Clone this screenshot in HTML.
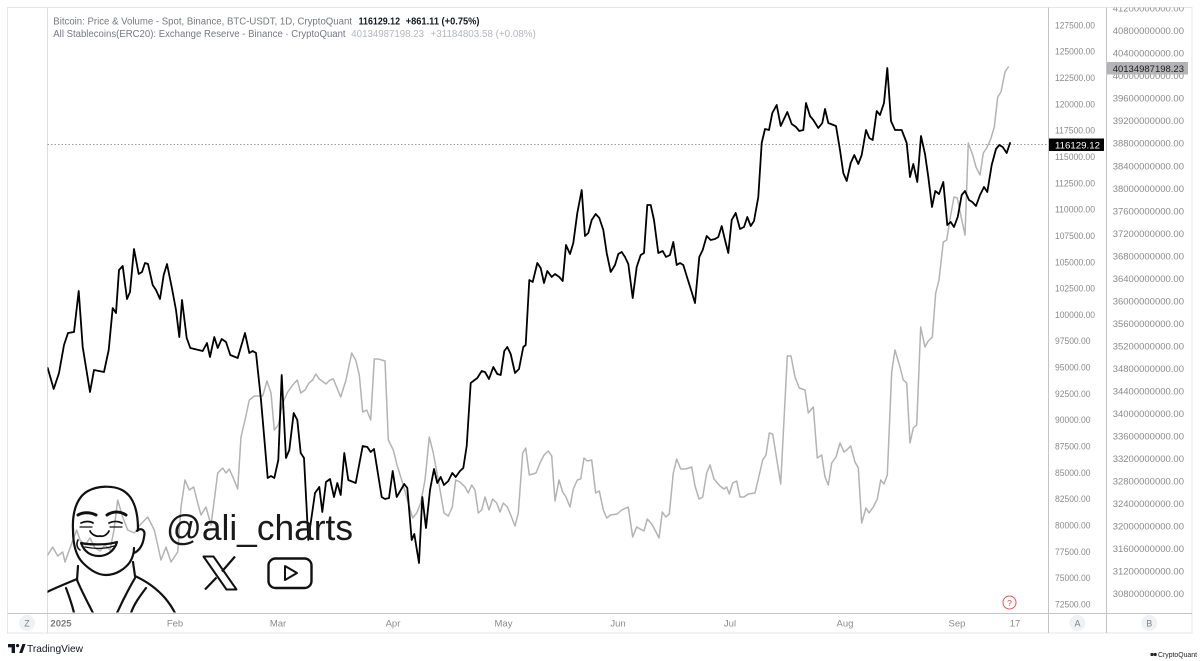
<!DOCTYPE html>
<html>
<head>
<meta charset="utf-8">
<style>
  html,body{margin:0;padding:0;background:#fff;}
  svg{display:block;}
  text{font-family:"Liberation Sans",Arial,sans-serif;}
</style>
</head>
<body>
<svg width="1200" height="661" viewBox="0 0 1200 661" xmlns="http://www.w3.org/2000/svg">
  <defs>
    <clipPath id="plot"><rect x="47.5" y="7.5" width="1000.5" height="605"/></clipPath>
    <clipPath id="axes"><rect x="1048" y="7.5" width="144" height="605"/></clipPath>
  </defs>
  <rect x="0" y="0" width="1200" height="661" fill="#fff"/>

  <!-- frame -->
  <rect x="7.5" y="7.5" width="1184.5" height="625.5" fill="none" stroke="#e6e6e6" stroke-width="1"/>
  <line x1="47.5" y1="7.5" x2="47.5" y2="633" stroke="#dcdcdc" stroke-width="1"/>
  <line x1="1048.5" y1="7.5" x2="1048.5" y2="633" stroke="#c4c4c4" stroke-width="1"/>
  <line x1="1106.5" y1="7.5" x2="1106.5" y2="633" stroke="#c4c4c4" stroke-width="1"/>
  <line x1="7.5" y1="613.5" x2="1192" y2="613.5" stroke="#c4c4c4" stroke-width="1"/>

  <!-- legend -->
  <text x="53.3" y="24.3" font-size="10" fill="#76787f" textLength="298.7" lengthAdjust="spacingAndGlyphs">Bitcoin: Price &amp; Volume - Spot, Binance, BTC-USDT, 1D, CryptoQuant</text>
  <text x="358.6" y="24.3" font-size="10" font-weight="bold" fill="#131722" textLength="41.4" lengthAdjust="spacingAndGlyphs">116129.12</text>
  <text x="405.7" y="24.3" font-size="10" font-weight="bold" fill="#131722" textLength="73.8" lengthAdjust="spacingAndGlyphs">+861.11 (+0.75%)</text>
  <text x="53.3" y="37" font-size="10" fill="#76787f" textLength="292.3" lengthAdjust="spacingAndGlyphs">All Stablecoins(ERC20): Exchange Reserve - Binance · CryptoQuant</text>
  <text x="351.3" y="37" font-size="10" fill="#b4b6bc" textLength="72.7" lengthAdjust="spacingAndGlyphs">40134987198.23</text>
  <text x="430.5" y="37" font-size="10" fill="#b4b6bc" textLength="105.3" lengthAdjust="spacingAndGlyphs">+31184803.58 (+0.08%)</text>

  <!-- dotted price line -->
  <line x1="47.5" y1="144.5" x2="1048" y2="144.5" stroke="#9a9ca3" stroke-width="1" stroke-dasharray="1.5,2"/>

  <!-- series -->
  <g clip-path="url(#plot)" fill="none" stroke-linejoin="round" stroke-linecap="round">
    <polyline stroke="#b3b3b3" stroke-width="1.5" points="47.7,555 52.7,547 57.7,556 62.7,552 65,562 69.3,550 76.7,530 80,540 85,545 90,538 95,548 100,551 105,545 110,550 114,530 117.7,500 122.7,517 127.7,530 134.3,533 140,525 147.7,517 154.3,530 161,560 166,547 171,562 177.7,552 181,507 185,480 189.3,490 193.7,487 197.7,503 201,515 206,507 211,525 214.3,500 217.7,473 222.7,468 226,473 229.3,469 233.7,479 237.7,489 241,437 245,420 249.3,400 254.3,396 262.7,396 267,381 271,393 274.3,430 278.3,425 282.7,403 287.7,392 292.7,385 297.3,380 300.7,393 305,390 309,383 312.7,380 315.7,374 319.3,379 326,384 330,380 333.3,379 340.7,397 346,380 351.7,353 355.7,360 359.3,375 362.7,412 366.7,410 370.7,420 374.3,359 378.3,359 385,361 388.3,440 393.3,450 397,465 401.7,480 408.3,503 412.7,518 416.7,513 420.7,503 425,480 429.3,437 433.3,453 438.3,480 444,513 448.3,516 452.3,507 455.7,480 460,482 465,487 468.3,493 471.7,485 475,490 478.3,513 481.7,510 485,497 489,510 492.7,499 496.7,503 500,512 503.3,503 507.3,507 510.7,515 515,526 518.3,513 522.7,453 525.7,448 529.3,475 536,473 540,463 544,455 548.3,451 551.7,456 555,501 559,480 562.7,492 566,497 570,507 573.3,489 577.3,480 580.7,479 584,458 587.3,461 591.7,460 595.7,493 599.3,491 603.3,510 606.7,518 610.7,515 617.3,514 621.7,510 628.3,507 632.7,537 636.7,527 644,531 647.3,519 651.7,524 655,530 659,538 662.3,512 665.7,517 669.3,514 673.3,473 676.7,459 680.7,469 685.7,469 691.7,467 695,486 699,499 702.7,497 706.7,473 710,465 714,479 720,486 724,489 726.7,487 729.3,494 732.7,483 736.7,481 740,497 744,497 748.3,494 755,493 762.7,460 766,455 769.3,433 772.7,434 780.7,484 787.3,356 791,356 795,377 799.3,388 805,390 808.3,413 813.3,407 817.3,458 821.7,455 825,477 828.3,485 831.7,463 836,457 840,443 844,452 846.7,450 850.7,446 855,462 858.3,468 861.7,523 866,508 869,513 873.3,507 877.3,499 880.7,480 884,484 887.3,475 891.7,372 895,350 900,367 903.3,380 906.7,383 910,443 913.3,428 916.7,425 920.7,327 925,347 928.3,341 932.3,337 935.7,293 939,280 943.3,242 946.7,240 950,219 954,197 957.3,198 960.7,215 965,235 968.3,143 972.7,155 976,167 980,175 983.3,153 986.7,148 990.7,139 994.3,127 997.7,97 1001,92 1005,72 1008.3,67"/>
    <polyline stroke="#000" stroke-width="1.8" points="47.7,368 53.7,389 59,373 64,345 68,333 74,332 78.7,291 82.7,347 90,392 94,370 104,372 108.7,350 112.7,308 116,313 119,270 122.7,266 127,299 130,292 134,249 138.7,274 142,272 145,263 148,264 152.7,285 156,290 160,299 163.7,275 167,264 171.7,287 176,310 179.3,337 182,300 186.7,338 190.3,348 202.7,351 207,343 210,357 214.3,337 217.7,348 221.7,339 226,342 230.3,355 237.7,358 245,333 249.3,353 252.7,351 256,353 261,400 267.7,478 271,476 274.3,478 278.3,460 281.7,375 286,458 289.3,450 293.7,413 297.3,420 300.7,453 304,458 308.3,540 315,493 319.3,487 322.3,512 326,482 330,479 334,497 337.3,483 340.7,495 344.3,453 348.3,480 355.7,483 362.7,446 367.3,447 370.7,452 374,449 381.7,497 385,499 389,498 392.7,471 396.7,497 404.3,484 407.3,488 411.7,540 414.3,534 419,563 422.3,497 426,528 430,490 434,469 437.3,483 440.7,477 444,485 448.3,481 452.3,473 455.7,477 460,471 463.3,468 466.7,446 470.7,383 477.3,378 481.7,371 485,372 489,379 493.3,367 497.3,374 500.7,375 504.3,351 507.3,347 510.7,354 515,373 519,369 523.3,347 525.7,345 529.3,280 532.7,282 537.3,263 540.7,268 544,283 547.3,271 551.7,277 555,274 559.3,277 562.7,281 566,245 570,254 573.3,243 577.3,213 581.7,190 585,236 588.3,233 591.7,220 595.7,214 599.3,218 603.3,230 606.7,253 610.7,272 615,265 618.3,254 621.7,252 625,257 628.3,264 632.7,298 636.7,267 640.7,255 644,253 647.3,205 650.7,205 654,220 658.3,253 662.7,251 666,257 670,255 673.3,242 676.7,265 680,263 683.3,265 687.3,278 691.7,292 695,303 699.3,257 702.7,250 706.7,236 710.7,240 715,239 718.3,237 721.7,226 725,240 728.3,253 731.7,220 735.7,213 740,229 744,227 747.3,217 750.7,226 754,221 758.3,197 761.7,143 765,129 769,130 772.3,113 776.7,105 780.7,126 787.3,112 791.7,124 796,127 799.3,131 803.3,130 806,103 810,116 813.3,120 818.3,128 822.3,123 825,109 828.3,123 836,126 840,150 843.3,173 846.7,181 850.7,163 854.3,155 858.3,164 861.7,155 866,130 869.3,138 872.7,140 876.7,111 880,115 884,103 887.3,68 891,121 895,130 901.7,130 906.7,143 910,177 913.3,164 917.3,182 921,136 925,154 928.3,177 932,207 935.3,191 939,194 943.3,182 947.3,225 950.7,222 954,227 957.7,217 961.7,195 965,191 969,200 972.3,202 976,206 980,195 984,187 987.3,192 991.7,165 996,149 999.3,145 1002.7,147 1006.7,153 1010,143"/>
  </g>

  <!-- watermark: face -->
  <g clip-path="url(#plot)" fill="none" stroke="#111" stroke-width="2.2" stroke-linecap="round" stroke-linejoin="round">
    <path d="M73,530 C72,512 77,497 88,491 C97,486 112,485 122,490 C132,495 138,508 138,529"/>
    <path d="M137,531 C141,527 146,530 144,537 C143,545 139,551 134,553"/>
    <path d="M73,530 C73,545 76,556 83,563 C90,570 98,575 106,575 C116,575 125,569 130,562 C133,557 134,553 134,548"/>
    <path d="M78,515 C83,512 90,512 96,515" stroke-width="3"/>
    <path d="M107,515 C113,511 120,511 126,515" stroke-width="3"/>
    <path d="M81,523 C85,521 90,521 93,523" stroke-width="1.8"/>
    <path d="M109,523 C113,521 118,521 122,523" stroke-width="1.8"/>
    <path d="M80,527 L92,527 M110,527 L122,527" stroke-width="1.2"/>
    <path d="M90,531 C92,535 97,537 100,536 C103,537 107,535 109,531" stroke-width="1.8"/>
    <path d="M81,543 C90,545 108,545 117,542 C114,552 106,556 99,556 C90,556 84,551 81,543 Z"/>
    <path d="M85,547 C95,549 105,549 114,546" stroke-width="1.4"/>
    <path d="M78,540 C76,544 77,548 80,550" stroke-width="1.6"/>
    <path d="M78,566 L77,580 M133,562 L135,576"/>
    <path d="M77,579 C65,584 55,588 47,592"/>
    <path d="M77,580 C82,592 88,603 93,613"/>
    <path d="M66,588 C69,596 72,604 74,613"/>
    <path d="M135,576 C148,582 158,590 165,598 C170,604 173,609 175,613"/>
    <path d="M135,578 C128,590 122,602 117,613"/>
    <path d="M146,588 C140,596 134,604 131,613"/>
  </g>
  <text x="166" y="540" font-size="36" fill="#1a1a1a" textLength="187" lengthAdjust="spacingAndGlyphs">@ali_charts</text>
  <!-- X icon -->
  <g fill="none" stroke="#111" stroke-width="2" stroke-linejoin="round">
    <path d="M203.5,556.5 L213.5,556.5 L236.5,589.5 L226.5,589.5 Z"/>
    <path d="M235,556.5 L222,571.5 M216.5,577.5 L205,589.5" stroke-width="2.2"/>
  </g>
  <!-- YouTube icon -->
  <rect x="268.5" y="558.5" width="43" height="29.5" rx="7" fill="none" stroke="#111" stroke-width="2.4"/>
  <path d="M285,566 L297,573 L285,580 Z" fill="none" stroke="#111" stroke-width="2" stroke-linejoin="round"/>

  <!-- red ? -->
  <circle cx="1009.5" cy="602.5" r="6.5" fill="#fff" stroke="#e05a5a" stroke-width="1"/>
  <text x="1009.5" y="605.8" font-size="8.5" fill="#d84848" text-anchor="middle">?</text>

  <!-- axis A labels -->
  <g font-size="9.5" fill="#8a8a8a" clip-path="url(#axes)">
    <text x="1055" y="28.4" textLength="40" lengthAdjust="spacingAndGlyphs">127500.00</text>
    <text x="1055" y="54.7" textLength="40" lengthAdjust="spacingAndGlyphs">125000.00</text>
    <text x="1055" y="81.0" textLength="40" lengthAdjust="spacingAndGlyphs">122500.00</text>
    <text x="1055" y="107.4" textLength="40" lengthAdjust="spacingAndGlyphs">120000.00</text>
    <text x="1055" y="133.7" textLength="40" lengthAdjust="spacingAndGlyphs">117500.00</text>
    <text x="1055" y="160.0" textLength="40" lengthAdjust="spacingAndGlyphs">115000.00</text>
    <text x="1055" y="186.3" textLength="40" lengthAdjust="spacingAndGlyphs">112500.00</text>
    <text x="1055" y="212.6" textLength="40" lengthAdjust="spacingAndGlyphs">110000.00</text>
    <text x="1055" y="239.0" textLength="40" lengthAdjust="spacingAndGlyphs">107500.00</text>
    <text x="1055" y="265.3" textLength="40" lengthAdjust="spacingAndGlyphs">105000.00</text>
    <text x="1055" y="291.6" textLength="40" lengthAdjust="spacingAndGlyphs">102500.00</text>
    <text x="1055" y="317.9" textLength="40" lengthAdjust="spacingAndGlyphs">100000.00</text>
    <text x="1055" y="344.2" textLength="35.5" lengthAdjust="spacingAndGlyphs">97500.00</text>
    <text x="1055" y="370.6" textLength="35.5" lengthAdjust="spacingAndGlyphs">95000.00</text>
    <text x="1055" y="396.9" textLength="35.5" lengthAdjust="spacingAndGlyphs">92500.00</text>
    <text x="1055" y="423.2" textLength="35.5" lengthAdjust="spacingAndGlyphs">90000.00</text>
    <text x="1055" y="449.5" textLength="35.5" lengthAdjust="spacingAndGlyphs">87500.00</text>
    <text x="1055" y="475.8" textLength="35.5" lengthAdjust="spacingAndGlyphs">85000.00</text>
    <text x="1055" y="502.2" textLength="35.5" lengthAdjust="spacingAndGlyphs">82500.00</text>
    <text x="1055" y="528.5" textLength="35.5" lengthAdjust="spacingAndGlyphs">80000.00</text>
    <text x="1055" y="554.8" textLength="35.5" lengthAdjust="spacingAndGlyphs">77500.00</text>
    <text x="1055" y="581.1" textLength="35.5" lengthAdjust="spacingAndGlyphs">75000.00</text>
    <text x="1055" y="607.4" textLength="35.5" lengthAdjust="spacingAndGlyphs">72500.00</text>
  </g>

  <!-- axis B labels -->
  <g font-size="9.5" fill="#8a8a8a" clip-path="url(#axes)">
    <text x="1112.7" y="11.6" textLength="71.3" lengthAdjust="spacingAndGlyphs">41200000000.00</text>
    <text x="1112.7" y="34.1" textLength="71.3" lengthAdjust="spacingAndGlyphs">40800000000.00</text>
    <text x="1112.7" y="56.6" textLength="71.3" lengthAdjust="spacingAndGlyphs">40400000000.00</text>
    <text x="1112.7" y="79.2" textLength="71.3" lengthAdjust="spacingAndGlyphs">40000000000.00</text>
    <text x="1112.7" y="101.7" textLength="71.3" lengthAdjust="spacingAndGlyphs">39600000000.00</text>
    <text x="1112.7" y="124.2" textLength="71.3" lengthAdjust="spacingAndGlyphs">39200000000.00</text>
    <text x="1112.7" y="146.7" textLength="71.3" lengthAdjust="spacingAndGlyphs">38800000000.00</text>
    <text x="1112.7" y="169.3" textLength="71.3" lengthAdjust="spacingAndGlyphs">38400000000.00</text>
    <text x="1112.7" y="191.8" textLength="71.3" lengthAdjust="spacingAndGlyphs">38000000000.00</text>
    <text x="1112.7" y="214.3" textLength="71.3" lengthAdjust="spacingAndGlyphs">37600000000.00</text>
    <text x="1112.7" y="236.8" textLength="71.3" lengthAdjust="spacingAndGlyphs">37200000000.00</text>
    <text x="1112.7" y="259.3" textLength="71.3" lengthAdjust="spacingAndGlyphs">36800000000.00</text>
    <text x="1112.7" y="281.9" textLength="71.3" lengthAdjust="spacingAndGlyphs">36400000000.00</text>
    <text x="1112.7" y="304.4" textLength="71.3" lengthAdjust="spacingAndGlyphs">36000000000.00</text>
    <text x="1112.7" y="326.9" textLength="71.3" lengthAdjust="spacingAndGlyphs">35600000000.00</text>
    <text x="1112.7" y="349.4" textLength="71.3" lengthAdjust="spacingAndGlyphs">35200000000.00</text>
    <text x="1112.7" y="372.0" textLength="71.3" lengthAdjust="spacingAndGlyphs">34800000000.00</text>
    <text x="1112.7" y="394.5" textLength="71.3" lengthAdjust="spacingAndGlyphs">34400000000.00</text>
    <text x="1112.7" y="417.0" textLength="71.3" lengthAdjust="spacingAndGlyphs">34000000000.00</text>
    <text x="1112.7" y="439.5" textLength="71.3" lengthAdjust="spacingAndGlyphs">33600000000.00</text>
    <text x="1112.7" y="462.1" textLength="71.3" lengthAdjust="spacingAndGlyphs">33200000000.00</text>
    <text x="1112.7" y="484.6" textLength="71.3" lengthAdjust="spacingAndGlyphs">32800000000.00</text>
    <text x="1112.7" y="507.1" textLength="71.3" lengthAdjust="spacingAndGlyphs">32400000000.00</text>
    <text x="1112.7" y="529.6" textLength="71.3" lengthAdjust="spacingAndGlyphs">32000000000.00</text>
    <text x="1112.7" y="552.1" textLength="71.3" lengthAdjust="spacingAndGlyphs">31600000000.00</text>
    <text x="1112.7" y="574.7" textLength="71.3" lengthAdjust="spacingAndGlyphs">31200000000.00</text>
    <text x="1112.7" y="597.2" textLength="71.3" lengthAdjust="spacingAndGlyphs">30800000000.00</text>
  </g>

  <!-- value tags -->
  <rect x="1049" y="138.5" width="55" height="12.5" fill="#000"/>
  <text x="1055" y="148.3" font-size="9.5" fill="#fff" textLength="45" lengthAdjust="spacingAndGlyphs">116129.12</text>
  <rect x="1107" y="62" width="81" height="12.5" fill="#b4b4b6"/>
  <text x="1112.7" y="71.8" font-size="9.5" fill="#1e1e1e" textLength="71.3" lengthAdjust="spacingAndGlyphs">40134987198.23</text>

  <!-- time axis -->
  <g font-size="9.5" fill="#8a8a8a" text-anchor="middle">
    <text x="61" y="626.5" font-weight="bold" fill="#7a7a7a">2025</text>
    <text x="175" y="626.5">Feb</text>
    <text x="278" y="626.5">Mar</text>
    <text x="393" y="626.5">Apr</text>
    <text x="503.5" y="626.5">May</text>
    <text x="618" y="626.5">Jun</text>
    <text x="730" y="626.5">Jul</text>
    <text x="845" y="626.5">Aug</text>
    <text x="957" y="626.5">Sep</text>
    <text x="1015" y="626.5">17</text>
  </g>

  <!-- buttons -->
  <circle cx="27" cy="623" r="8" fill="#f0f1f3"/>
  <text x="27" y="626.3" font-size="9" fill="#808080" text-anchor="middle">Z</text>
  <circle cx="1077.5" cy="623" r="8" fill="#f0f1f3"/>
  <text x="1077.5" y="626.3" font-size="9" fill="#808080" text-anchor="middle">A</text>
  <circle cx="1149.3" cy="623" r="8" fill="#f0f1f3"/>
  <text x="1149.3" y="626.3" font-size="9" fill="#808080" text-anchor="middle">B</text>

  <!-- TradingView logo -->
  <g fill="#131722">
    <path d="M8,644 H15 V653 H11.6 V647.4 H8 Z"/>
    <circle cx="17.6" cy="645.6" r="1.6"/>
    <path d="M19.2,653 L22.4,644 H25.6 L22.4,653 Z"/>
  </g>
  <text x="27" y="652" font-size="10.5" fill="#131722" textLength="56" lengthAdjust="spacingAndGlyphs">TradingView</text>

  <!-- CryptoQuant logo -->
  <g fill="#222">
    <circle cx="1152" cy="654.5" r="1.6"/>
    <circle cx="1155.2" cy="654.5" r="1.6"/>
  </g>
  <text x="1158" y="657" font-size="7" fill="#222" textLength="39" lengthAdjust="spacingAndGlyphs">CryptoQuant</text>
</svg>
</body>
</html>
